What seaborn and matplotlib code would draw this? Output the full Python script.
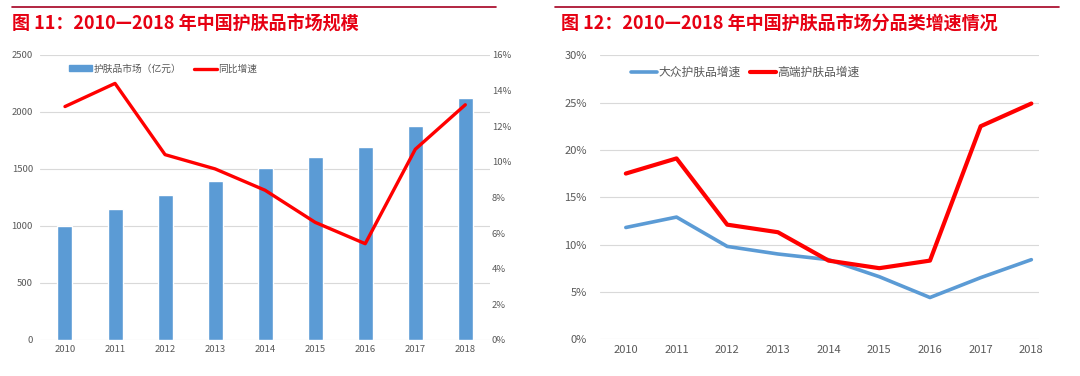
import numpy as np
import pandas as pd
import seaborn as sns
import matplotlib.pyplot as plt
from matplotlib.lines import Line2D
from matplotlib.patches import Patch
from matplotlib.ticker import FuncFormatter

sns.set_theme(style="white")
plt.rcParams['font.family'] = ['Noto Sans CJK SC', 'DejaVu Sans']

# data
years = [2010, 2011, 2012, 2013, 2014, 2015, 2016, 2017, 2018]
market_size = [1000, 1149, 1272, 1395, 1509, 1605, 1693, 1877, 2123]   # 亿元
market_growth = [13.1, 14.4, 10.4, 9.6, 8.4, 6.6, 5.4, 10.7, 13.2]     # %
mass_growth = [11.8, 12.9, 9.8, 9.0, 8.4, 6.6, 4.4, 6.5, 8.4]          # %
premium_growth = [17.5, 19.1, 12.1, 11.3, 8.3, 7.5, 8.3, 22.5, 24.9]   # %

blue = "#5B9BD5"
red = "#FF0000"
grey = "#595959"
grid = "#D9D9D9"
title_red = "#E60012"

df1 = pd.DataFrame({"year": [str(y) for y in years], "size": market_size,
                    "growth": market_growth, "pos": np.arange(len(years))})
df2 = pd.DataFrame({"year": years, "大众护肤品增速": mass_growth,
                    "高端护肤品增速": premium_growth})
df2 = df2.melt("year", var_name="series", value_name="growth")

fig = plt.figure(figsize=(10.8, 3.76), dpi=100)

# top rules and titles
fig.add_artist(Line2D([0.011, 0.459], [0.981, 0.981], color="#A50021", lw=1.2))
fig.add_artist(Line2D([0.514, 0.981], [0.981, 0.981], color="#A50021", lw=1.2))
fig.text(0.011, 0.937, "图 11：2010—2018 年中国护肤品市场规模", color=title_red,
         fontsize=13, fontweight="bold", va="center", ha="left")
fig.text(0.519, 0.937, "图 12：2010—2018 年中国护肤品市场分品类增速情况", color=title_red,
         fontsize=13, fontweight="bold", va="center", ha="left")

# ---- left chart: bars + growth line
ax1 = fig.add_axes([0.037, 0.096, 0.417, 0.758])
sns.barplot(df1, x="year", y="size", color=blue, width=0.3, saturation=1, ax=ax1)
ax1.set_xlim(-0.5, 8.5)
ax1.set_ylim(0, 2500)
ax1.set_yticks(range(0, 2501, 500))
ax1.yaxis.grid(True, color=grid, lw=0.8)
ax1.set_axisbelow(True)
ax1.set_xlabel("")
ax1.set_ylabel("")
for s in ax1.spines.values():
    s.set_visible(False)
ax1.tick_params(axis="both", labelsize=6.8, colors=grey, length=0, pad=5)
ax1.tick_params(axis="x", pad=4)

ax1b = ax1.twinx()
sns.lineplot(df1, x="pos", y="growth", color=red, lw=2.4, ax=ax1b)
ax1b.set_ylim(0, 16)
ax1b.set_yticks(range(0, 17, 2))
ax1b.yaxis.set_major_formatter(FuncFormatter(lambda v, p: f"{v:.0f}%"))
ax1b.set_xlim(-0.5, 8.5)
ax1b.set_ylabel("")
ax1b.set_xlabel("")
for s in ax1b.spines.values():
    s.set_visible(False)
ax1b.tick_params(axis="y", labelsize=6.8, colors=grey, length=0, pad=1)

handles = [Patch(color=blue), Line2D([], [], color=red, lw=2.4)]
ax1b.legend(handles, ["护肤品市场（亿元）", "同比增速"], loc="upper left",
            bbox_to_anchor=(0.045, 1.0), ncol=2, frameon=False, fontsize=7,
            labelcolor=grey, handlelength=2.4, handleheight=0.5,
            columnspacing=1.3, handletextpad=0.1)

# ---- right chart: two growth lines
ax2 = fig.add_axes([0.556, 0.098, 0.406, 0.755])
sns.lineplot(df2, x="year", y="growth", hue="series",
             palette={"大众护肤品增速": blue, "高端护肤品增速": red}, ax=ax2)
for ln, w in zip(ax2.get_lines(), [2.6, 3.0]):
    ln.set_linewidth(w)
ax2.set_xlim(2009.5, 2018.15)
ax2.set_ylim(0, 30)
ax2.set_xticks(years)
ax2.set_yticks(range(0, 31, 5))
ax2.yaxis.set_major_formatter(FuncFormatter(lambda v, p: f"{v:.0f}%"))
ax2.yaxis.grid(True, color=grid, lw=0.8)
ax2.set_axisbelow(True)
ax2.set_xlabel("")
ax2.set_ylabel("")
for s in ax2.spines.values():
    s.set_visible(False)
ax2.tick_params(axis="both", labelsize=8, colors=grey, length=0, pad=10)
ax2.tick_params(axis="x", pad=4)
h2 = [Line2D([], [], color=blue, lw=2.6), Line2D([], [], color=red, lw=3.0)]
ax2.legend(h2, ["大众护肤品增速", "高端护肤品增速"], loc="upper left",
           bbox_to_anchor=(0.045, 1.0), ncol=2, frameon=False, fontsize=8.5,
           labelcolor=grey, handlelength=2.2, columnspacing=0.8,
           handletextpad=0.1)

fig.savefig("out.png", dpi=100)
